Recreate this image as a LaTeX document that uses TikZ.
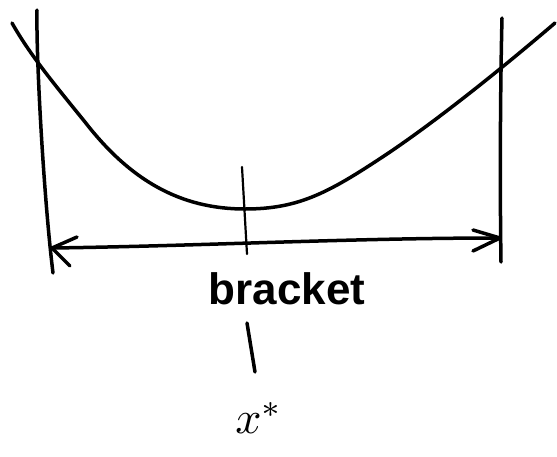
\documentclass[tikz,border=0pt]{standalone}
\usepackage{fontspec}
\newfontfamily\handfont{Liberation Sans}
\begin{document}
\begin{tikzpicture}[x=1pt,y=-1pt,
  pen/.style={line width=3.5pt,line cap=round,line join=round},
  thin pen/.style={line width=2.2pt,line cap=round},
  lbl/.style={inner sep=0pt}]
\useasboundingbox (0,0) rectangle (557,456);
% bracket walls
\coordinate (lt) at (37,10);
\coordinate (lb) at (53,273);
\coordinate (rt) at (502,18);
\coordinate (rb) at (501,262);
\draw[pen] (lt) .. controls (36,60) and (44,200) .. (lb);
\draw[pen] (rt) .. controls (500,100) and (500,200) .. (rb);
% function curve
\draw[pen] (12,23) .. controls (30,55) and (55,85) .. (85,122)
  .. controls (130,180) and (180,209) .. (245,209)
  .. controls (300,209) and (330,192) .. (390,152)
  .. controls (440,118) and (500,70) .. (555,23);
% minimum tick
\coordinate (tt) at (242,167);
\coordinate (tb) at (247,254);
\draw[thin pen] (tt) -- (tb);
% bracket arrow
\coordinate (al) at (52,248);
\coordinate (ar) at (500,238);
\draw[pen] (al) .. controls (200,246) and (350,238) .. (ar);
\draw[pen] (77,237) -- (al) -- (70,266);
\draw[pen] (473,230) -- (ar) -- (473,251);
% labels
\node[lbl,font=\handfont\bfseries\fontsize{44}{50}\selectfont] (br) at (287,289) {bracket};
\node[lbl] (xs) at (259,418) {\scalebox{4.6}{$x^{*}$}};
\coordinate (vt) at (247,323);
\coordinate (vb) at (255,372);
\draw[pen] (vt) -- (vb);
\end{tikzpicture}
\end{document}
